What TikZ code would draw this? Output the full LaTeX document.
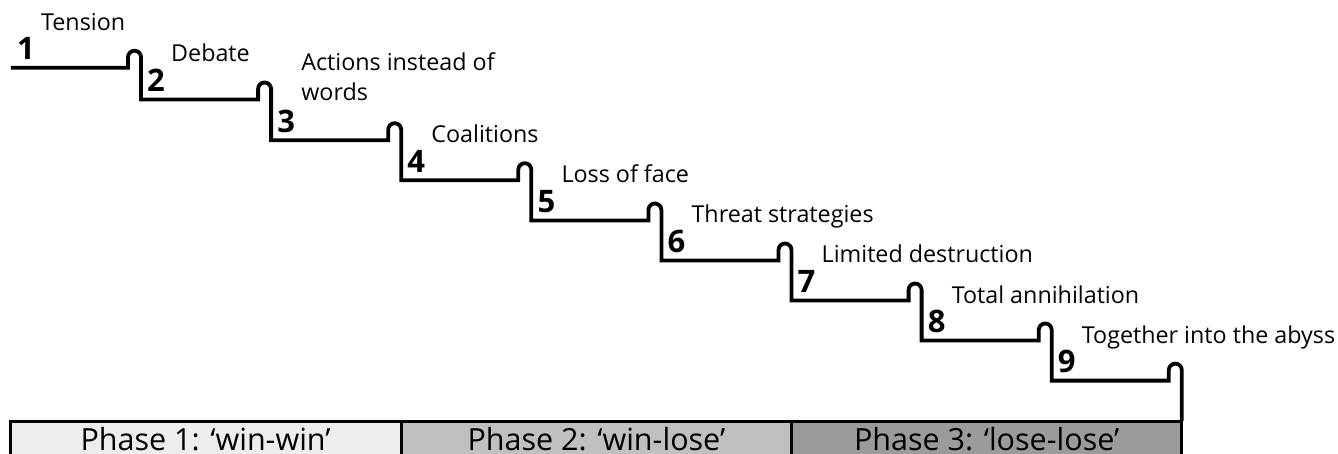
\documentclass[tikz,border=0pt]{standalone}
\usepackage{fontspec}
\setmainfont{Open Sans}
\usetikzlibrary{calc}
\definecolor{phaseA}{RGB}{237,237,237}
\definecolor{phaseB}{RGB}{192,192,192}
\definecolor{phaseC}{RGB}{155,155,155}
\begin{document}
\begin{tikzpicture}[x=1pt,y=-1pt,
  stair/.style={line width=3.8pt, line join=miter},
  steplabel/.style={anchor=base west, inner sep=0pt, font=\fontsize{23.3}{30}\selectfont},
  stepnum/.style={anchor=base west, inner sep=0pt, font=\fontsize{31}{32}\selectfont\bfseries},
  phasetext/.style={anchor=base, inner sep=0pt, font=\fontsize{30.5}{32}\selectfont},
  barline/.style={line width=3pt}]
\clip (0,0) rectangle (1338,454);
\useasboundingbox (0,0) rectangle (1338,454);

% start of each step (foot of the riser leading to it)
\foreach \k/\x/\y in {1/10.9/67.7, 2/141/99.5, 3/271.1/140.2, 4/401.2/180.2,
                       5/531.3/220.5, 6/661.4/260.5, 7/791.5/300.5,
                       8/921.6/340.5, 9/1051.7/380.6, 10/1181.8/421}
  \coordinate (s\k) at (\x,\y);

% phase bar
\fill[phaseA] (s1 |- s10) rectangle (401.2,470);
\fill[phaseB] (401.2,421) rectangle (791.5,470);
\fill[phaseC] (791.5,421) rectangle (s10 |- 0,470);
\draw[barline] (10,470) -- (10,421) -- (s10) -- (1181.8,470);
\draw[barline] (s4 |- s10) -- (401.2,470);
\draw[barline] (s7 |- s10) -- (791.5,470);
\node[phasetext] (p1) at (205.6,450) {Phase 1: ‘win-win’};
\node[phasetext] (p2) at (596.4,450) {Phase 2: ‘win-lose’};
\node[phasetext] (p3) at (986.7,450) {Phase 3: ‘lose-lose’};

% the staircase with its little rounded lips
\draw[stair] (s1) \foreach \k [count=\n from 2] in {1,...,9} {
   -- ($(s\n |- s\k)+(-13,0)$) -- ++(0,-10.5)
   arc[start angle=180, end angle=360, radius=6.5] -- (s\n) };

% step numbers
\foreach \k in {1,...,9}
  \node[stepnum] (n\k) at ([xshift=6pt, yshift=8pt]s\k) {\k};

% step names
\foreach \k/\t in {1/Tension, 2/Debate, 4/Coalitions, 5/Loss of face,
                   6/Threat strategies, 7/Limited destruction,
                   8/Total annihilation, 9/Together into the abyss}
  \node[steplabel] (l\k) at ([xshift=30pt, yshift=37.5pt]s\k) {\t};
\node[steplabel, align=left] (l3) at ([xshift=30pt, yshift=39.5pt]s3)
  {Actions instead of\\words};
\end{tikzpicture}
\end{document}
